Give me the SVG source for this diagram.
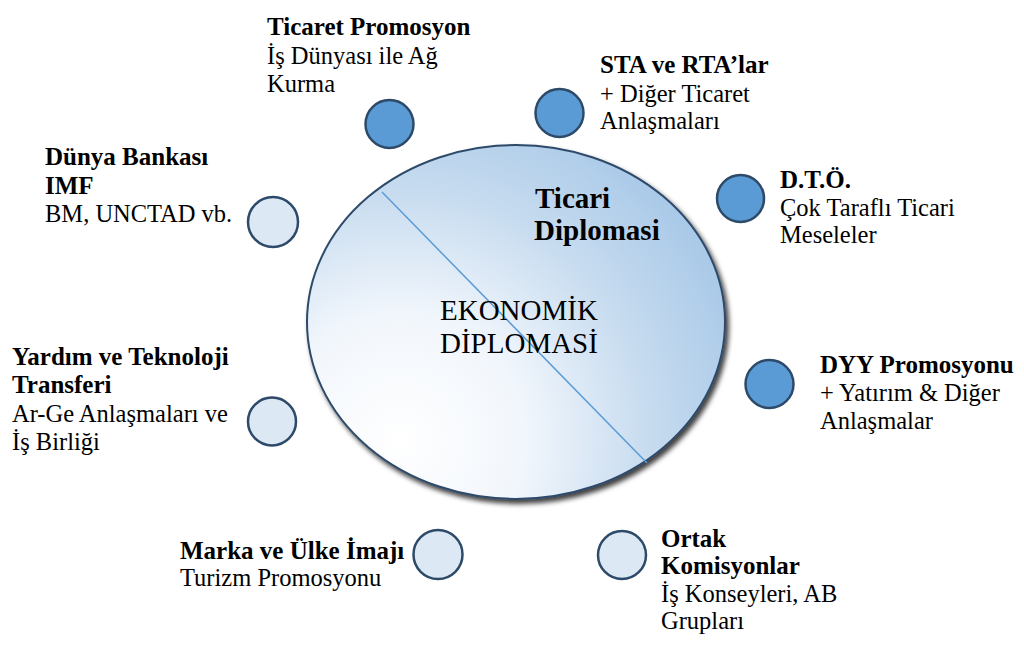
<svg xmlns="http://www.w3.org/2000/svg" width="1024" height="645" viewBox="0 0 1024 645">
<style>
text{font-family:"Liberation Serif","Times New Roman",Times,serif;font-size:24.5px;fill:#000}
.b{font-weight:bold;font-size:25px}
.dark{fill:#5b9bd5;stroke:#2d4a69;stroke-width:2.5}
.light{fill:#dde8f5;stroke:#2d4a69;stroke-width:2.5}
.big{font-size:29px}
</style>
<defs>
<radialGradient id="g" gradientUnits="userSpaceOnUse" cx="400" cy="440" r="360">
<stop offset="0" stop-color="#ffffff"/>
<stop offset="0.35" stop-color="#f1f6fc"/>
<stop offset="0.7" stop-color="#c6dbef"/>
<stop offset="1" stop-color="#a9c9e8"/>
</radialGradient>
<filter id="sh" x="-10%" y="-10%" width="125%" height="130%">
<feDropShadow dx="3" dy="4" stdDeviation="2.5" flood-color="#000" flood-opacity="0.75"/>
</filter>
</defs>
<rect width="1024" height="645" fill="#fff"/>
<g id="center" font-family="Liberation Serif, serif">
<ellipse cx="516" cy="322" rx="209" ry="177" fill="url(#g)" stroke="#2d4a69" stroke-width="2" filter="url(#sh)"/>
<line x1="382" y1="192" x2="647" y2="463" stroke="#5b9bd5" stroke-width="1.5"/>
<text class="b big" x="535" y="208">Ticari</text>
<text class="b big" x="534" y="240">Diplomasi</text>
<text class="big" x="440" y="320">EKONOMİK</text>
<text class="big" x="440" y="353">DİPLOMASİ</text>
</g>
<g id="connectors"/>
<g id="ticaret-promosyon">
<circle class="dark" cx="389.5" cy="124" r="24"/>
<text class="b" x="267" y="35">Ticaret Promosyon</text>
<text x="267" y="64">İş Dünyası ile Ağ</text>
<text x="267" y="92">Kurma</text>
</g>
<g id="sta">
<circle class="dark" cx="559.5" cy="113" r="24"/>
<text class="b" x="600" y="73">STA ve RTA’lar</text>
<text x="600" y="102">+ Diğer Ticaret</text>
<text x="600" y="129">Anlaşmaları</text>
</g>
<g id="dto">
<circle class="dark" cx="740.5" cy="198.5" r="23.5"/>
<text class="b" x="780" y="188">D.T.Ö.</text>
<text x="780" y="216">Çok Taraflı Ticari</text>
<text x="780" y="243">Meseleler</text>
</g>
<g id="dyy">
<circle class="dark" cx="769.5" cy="384" r="24"/>
<text class="b" x="820" y="373">DYY Promosyonu</text>
<text x="820" y="401">+ Yatırım &amp; Diğer</text>
<text x="820" y="429">Anlaşmalar</text>
</g>
<g id="ortak">
<circle class="light" cx="622" cy="555" r="24"/>
<text class="b" x="661" y="547">Ortak</text>
<text class="b" x="661" y="574">Komisyonlar</text>
<text x="661" y="602">İş Konseyleri, AB</text>
<text x="661" y="629">Grupları</text>
</g>
<g id="marka">
<circle class="light" cx="438" cy="554.5" r="24.5"/>
<text class="b" x="180" y="559">Marka ve Ülke İmajı</text>
<text x="180" y="586">Turizm Promosyonu</text>
</g>
<g id="yardim">
<circle class="light" cx="272" cy="421.5" r="24"/>
<text class="b" x="12" y="365">Yardım ve Teknoloji</text>
<text class="b" x="12" y="393">Transferi</text>
<text x="12" y="422">Ar-Ge Anlaşmaları ve</text>
<text x="12" y="450">İş Birliği</text>
</g>
<g id="dunya">
<circle class="light" cx="273" cy="222" r="25"/>
<text class="b" x="45" y="165">Dünya Bankası</text>
<text class="b" x="45" y="194">IMF</text>
<text x="45" y="222">BM, UNCTAD vb.</text>
</g>
</svg>
